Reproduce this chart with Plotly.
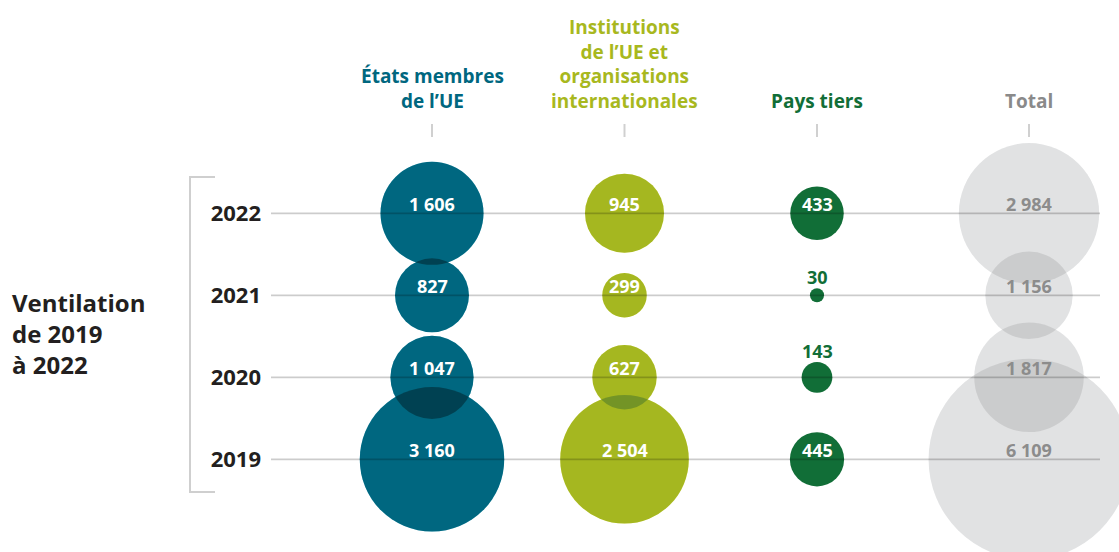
import math
import plotly.graph_objects as go

# ---------------- data ----------------
years = ["2022", "2021", "2020", "2019"]
year_order = ["2019", "2020", "2021", "2022"]
columns = ["États membres", "Institutions", "Pays tiers"]
total_column = ["Total"]
headers = ["États membres<br>de l’UE",
           "Institutions<br>de l’UE et<br>organisations<br>internationales",
           "Pays tiers"]
total_header = "Total"
etats = [1606, 827, 1047, 3160]
institutions = [945, 299, 627, 2504]
pays_tiers = [433, 30, 143, 445]
total = [2984, 1156, 1817, 6109]
side_title = "Ventilation<br>de 2019<br>à 2022"

# ---------------- styles ----------------
FONT = "Open Sans"
W, H = 1119, 552
K = 1.285                     # px radius per sqrt(value)
SIZEREF = 1 / (2 * K * K)     # plotly area sizing -> radius = sqrt(v/(2*sizeref))

# (base colour, shade colour, shade opacity, header colour, label colour)
styles = {
    "États membres": ("rgb(0,162,200)", "rgb(0,0,0)", 0.36, "#00677f", "white"),
    "Institutions": ("rgb(237,233,23)", "rgb(0,70,53)", 0.30, "#a8b81e", "white"),
    "Pays tiers": ("rgb(17,110,55)", "rgb(0,0,0)", 0.0, "#116e37", "white"),
    "Total": ("rgb(249,250,251)", "rgb(0,0,0)", 0.093, "#8a8a8a", "#8c8c8c"),
}
outside_colour = "#116e37"


def fmt(v):
    return f"{v:,}".replace(",", "\u00a0")


def yidx(yv):
    return year_order.index(yv)


fig = go.Figure()
series = [("États membres", etats, "x"), ("Institutions", institutions, "x"),
          ("Pays tiers", pays_tiers, "x"), ("Total", total, "x2")]

annotations = []
for name, vals, xa in series:
    base, shade, beta, hcol, lcol = styles[name]
    xs = [name] * len(vals)
    fig.add_trace(go.Scatter(
        x=xs, y=years, mode="markers", xaxis=xa, yaxis="y",
        marker=dict(size=vals, sizemode="area", sizeref=SIZEREF, color=base,
                    opacity=1, line=dict(width=0)),
        cliponaxis=False, hoverinfo="skip", showlegend=False))
    if beta > 0:
        fig.add_trace(go.Scatter(
            x=xs, y=years, mode="markers", xaxis=xa, yaxis="y",
            marker=dict(size=vals, sizemode="area", sizeref=SIZEREF, color=shade,
                        opacity=beta, line=dict(width=0)),
            cliponaxis=False, hoverinfo="skip", showlegend=False))
    for yv, v in zip(years, vals):
        r = math.sqrt(v / (2 * SIZEREF))
        inside = r >= 20
        annotations.append(dict(
            x=name, y=yidx(yv), xref=xa, yref="y", text=fmt(v), showarrow=False,
            xanchor="center", yanchor="middle",
            yshift=9 if inside else r + 11,
            font=dict(family=FONT, size=18, weight=700,
                      color=lcol if inside else outside_colour)))

# column headers
for name, htxt in zip(columns + total_column, headers + [total_header]):
    xa = "x2" if name == "Total" else "x"
    annotations.append(dict(
        x=name, y=1 - 116 / H, xref=xa, yref="paper", text=htxt, showarrow=False,
        xanchor="center", yanchor="bottom", align="center",
        font=dict(family=FONT, size=19, weight=700, color=styles[name][3])))

# side title
annotations.append(dict(
    x=10 / W, y=1 - 333 / H, xref="paper", yref="paper", text=side_title,
    showarrow=False, xanchor="left", yanchor="middle", align="left",
    font=dict(family=FONT, size=24, weight=700, color="#231f20")))

shapes = []
# header ticks
for name in columns + total_column:
    xa = "x2" if name == "Total" else "x"
    shapes.append(dict(type="line", xref=xa, yref="paper", x0=name, x1=name,
                       y0=1 - 124 / H, y1=1 - 137 / H,
                       line=dict(color="#d0d0d0", width=2)))
# row lines
for yv in years:
    shapes.append(dict(type="line", xref="paper", yref="y", x0=271 / W, x1=1100 / W,
                       y0=yidx(yv), y1=yidx(yv), layer="above",
                       line=dict(color="rgba(0,0,0,0.2)", width=1.8)))
# bracket
bx0, bx1, by0, by1 = 190 / W, 215 / W, 1 - 177 / H, 1 - 492 / H
shapes.append(dict(type="path", xref="paper", yref="paper",
                   path=f"M {bx1},{by0} L {bx0},{by0} L {bx0},{by1} L {bx1},{by1}",
                   line=dict(color="#cfcfcf", width=2)))

fig.update_layout(
    width=W, height=H, autosize=False,
    margin=dict(l=0, r=0, t=0, b=0),
    paper_bgcolor="white", plot_bgcolor="rgba(0,0,0,0)",
    xaxis=dict(type="category", categoryarray=columns, categoryorder="array",
               range=[-0.5, 2.5], domain=[335.75 / W, 913.25 / W], visible=False,
               fixedrange=True),
    xaxis2=dict(type="category", categoryarray=total_column, categoryorder="array",
                range=[-0.5, 0.5], domain=[979 / W, 1079 / W], visible=False,
                anchor="y", fixedrange=True),
    yaxis=dict(type="category", categoryarray=year_order, categoryorder="array",
               range=[-0.5, 3.5], domain=[(H - 500.3) / H, (H - 172.3) / H],
               anchor="free", position=261 / W, side="left",
               showgrid=False, zeroline=False, showline=False, ticks="",
               tickfont=dict(family=FONT, size=22, weight=700, color="#231f20"),
               fixedrange=True),
    annotations=annotations, shapes=shapes,
)

fig.write_html("out.html", config={"displayModeBar": False},
               post_script="document.body.style.margin='0';")
